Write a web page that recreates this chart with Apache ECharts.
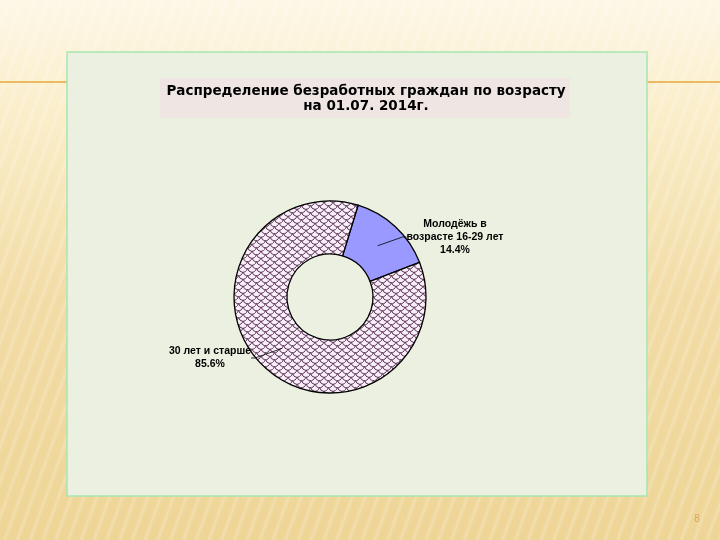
<!DOCTYPE html>
<html><head><meta charset="utf-8">
<script src="https://cdn.jsdelivr.net/npm/echarts@6/dist/echarts.min.js"></script>
<style>
html,body{margin:0;padding:0;width:720px;height:540px;overflow:hidden;}
body{background:
 repeating-linear-gradient(110deg, rgba(255,255,255,0) 0px, rgba(255,255,255,0) 6px, rgba(255,255,255,0.22) 9px, rgba(255,255,255,0) 12px),
 linear-gradient(180deg,#fdf7e6 0%,#faedc8 22%,#f2dca6 55%,#eed596 100%);}
#c{position:absolute;left:0;top:0;width:720px;height:540px;}
</style></head>
<body><div id="c"></div>
<script>
var categories = ['Молодёжь в\nвозрасте 16-29 лет', '30 лет и старше'];
var values = [14.4, 85.6];
var titleLines = ['Распределение безработных граждан по возрасту', 'на 01.07. 2014г.'];
var pageNumber = '8';

function makePattern(){
  var cv = document.createElement('canvas');
  cv.width = 9; cv.height = 7;
  var g = cv.getContext('2d');
  g.fillStyle = '#f8eff8';
  g.fillRect(0,0,9,7);
  g.strokeStyle = '#5e3358';
  g.lineWidth = 1;
  function sc(cx,cy){ g.beginPath(); g.arc(cx,cy,4.3,0.05*Math.PI,0.95*Math.PI); g.stroke(); }
  sc(4.5,-1.5); sc(4.5,5.5); sc(0,2); sc(9,2);
  return cv;
}
var pat = makePattern();
var colors = ['#9999ff', {image: pat, repeat: 'repeat'}];
var labelPos = [[455, 237], [210, 358]];
var fontFam = '"Liberation Sans", Arial, sans-serif';

var chart = echarts.init(document.getElementById('c'), null, {renderer:'canvas'});
chart.setOption({
  animation:false,
  graphic:[
    {type:'line', z:0, shape:{x1:0,y1:82,x2:720,y2:82}, style:{stroke:'#eab050', lineWidth:2, opacity:0.85}},
    {type:'rect', z:1, shape:{x:67,y:52,width:580,height:444}, style:{fill:'#ecf0e0', stroke:'#a6e6b0', lineWidth:1.5}},
    {type:'rect', z:2, shape:{x:160,y:78,width:410,height:40}, style:{fill:'#efe6e4'}},
    {type:'text', z:3, x:697, y:519, style:{text:pageNumber, fill:'#d9a766', font:'10px ' + fontFam, align:'center', verticalAlign:'middle'}}
  ],
  title:{
    text: titleLines.join('\n'),
    left: 361, top: 79, textAlign:'center',
    textStyle:{fontFamily:'"DejaVu Sans", Verdana, sans-serif', fontWeight:'bold', fontSize:13.5, lineHeight:15, color:'#000'}
  },
  series:[{
    type:'pie',
    center:[330,297],
    radius:[43,96],
    startAngle:73,
    clockwise:true,
    z:5,
    silent:true,
    data: categories.map(function(n,i){return {name:n, value:values[i], itemStyle:{color:colors[i]}};}),
    itemStyle:{borderColor:'#000', borderWidth:1.3},
    emphasis:{disabled:true},
    label:{show:false},
    labelLine:{show:false}
  },{
    type:'pie',
    center:[330,297],
    radius:[0,70],
    startAngle:73,
    clockwise:true,
    z:6,
    silent:true,
    data: categories.map(function(n,i){return {name:n, value:values[i]};}),
    itemStyle:{color:'rgba(0,0,0,0)', borderWidth:0},
    emphasis:{disabled:true},
    label:{
      show:true, position:'outside',
      formatter:function(p){return p.name + '\n' + p.value.toFixed(1) + '%';},
      fontFamily:fontFam, fontWeight:'bold', fontSize:10.5, lineHeight:13, color:'#000', align:'center'
    },
    labelLine:{show:true, length:8, length2:4, lineStyle:{color:'#000', width:0.8}},
    labelLayout:function(p){
      var pos = labelPos[p.dataIndex];
      return {x: pos[0], y: pos[1], align:'center', verticalAlign:'middle'};
    }
  }]
});
</script></body></html>
